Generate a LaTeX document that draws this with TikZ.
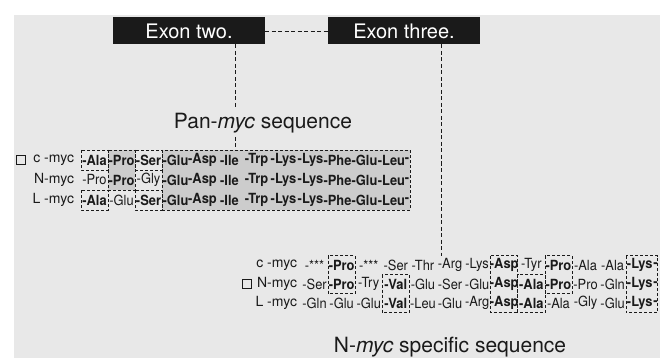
\documentclass[tikz,border=0pt]{standalone}
\usepackage{fontspec}
\setmainfont{TeX Gyre Heros}
\newfontfamily\seqfont[FakeStretch=0.92]{TeX Gyre Heros}
\newcommand{\rb}{\bfseries}
\newcommand{\rn}{\mdseries}
\definecolor{ce8e8e8}{RGB}{232,232,232}
\definecolor{cc8c8c8}{RGB}{204,204,204}
\definecolor{c1a1a1a}{RGB}{26,26,26}

\begin{document}
\begin{tikzpicture}[x=1pt, y=1pt, yscale=-1, inner sep=0pt, outer sep=0pt,
  exonbox/.style={fill=c1a1a1a, text=white, minimum width=152pt,
    minimum height=27pt, font=\fontsize{20}{22}\selectfont},
  dashline/.style={draw=c1a1a1a, dash pattern=on 4pt off 2.5pt, line width=0.8pt},
  seqbox/.style={draw=c1a1a1a, dash pattern=on 3pt off 2pt, line width=0.7pt},
  res/.style={text=c1a1a1a, font=\seqfont\fontsize{14}{16}\selectfont},
  myclabel/.style={anchor=east, text=c1a1a1a, font=\fontsize{14}{16}\selectfont},
  seqtitle/.style={inner sep=4pt, text=c1a1a1a, font=\fontsize{21}{25}\selectfont}]
\useasboundingbox (0,0) rectangle (660,358);
\path[fill=ce8e8e8] (14,15) rectangle (660,358);

% exon boxes
\node[exonbox] (exontwo) at (189,31) {Exon two.};
\node[exonbox] (exonthree) at (404,31) {Exon three.};

% pan-myc block: shaded and dashed boxes
\path[seqbox, fill=cc8c8c8] (162,150) rectangle (410,210);
\path[seqbox, fill=cc8c8c8] (108,150) rectangle (135,190);
\path[seqbox] (81,150) rectangle (108,170);
\path[seqbox] (135,150) rectangle (162,170);
\path[seqbox] (81,190) rectangle (108,210);
\path[seqbox] (135,190) rectangle (162,210);

\node[seqtitle] (pantitle) at (263,123) {Pan-\textit{myc} sequence};
\path[draw=c1a1a1a, line width=0.6pt] (16,155.5) rectangle (25,164.5);
\node[myclabel] (panc) at (74,160) {c -myc};
\node[myclabel] (pann) at (74,180) {N-myc};
\node[myclabel] (panl) at (74,200) {L -myc};
\foreach \f/\r [count=\k] in {\rb/Ala,\rb/Pro,\rb/Ser,\rb/Glu,\rb/Asp,\rb/Ile,
    \rb/Trp,\rb/Lys,\rb/Lys,\rb/Phe,\rb/Glu,\rb/Leu}
  \node[res] (pc\k) at ({81+27*(\k-0.5)},160) {\f-\r};
\foreach \f/\r [count=\k] in {\rn/Pro,\rb/Pro,\rn/Gly,\rb/Glu,\rb/Asp,\rb/Ile,
    \rb/Trp,\rb/Lys,\rb/Lys,\rb/Phe,\rb/Glu,\rb/Leu}
  \node[res] (pn\k) at ({81+27*(\k-0.5)},180) {\f-\r};
\foreach \f/\r [count=\k] in {\rb/Ala,\rn/Glu,\rb/Ser,\rb/Glu,\rb/Asp,\rb/Ile,
    \rb/Trp,\rb/Lys,\rb/Lys,\rb/Phe,\rb/Glu,\rb/Leu}
  \node[res] (pl\k) at ({81+27*(\k-0.5)},200) {\f-\r};
\node[res] (pcend) at (407,160) {\rb-};
\node[res] (pnend) at (407,180) {\rb-};
\node[res] (plend) at (407,200) {\rb-};

% N-myc specific block
\path[seqbox] (328.1,255.5) rectangle (355.2,293.5);
\path[seqbox] (382.3,274.5) rectangle (409.4,312.5);
\path[seqbox] (490.7,255.5) rectangle (517.8,312.5);
\path[seqbox] (517.8,274.5) rectangle (544.9,312.5);
\path[seqbox] (544.9,255.5) rectangle (572.0,293.5);
\path[seqbox] (626.2,255.5) rectangle (657.5,312.5);

\node[myclabel] (specc) at (297,265) {c -myc};
\node[myclabel] (specn) at (297,284) {N-myc};
\node[myclabel] (specl) at (297,303) {L -myc};
\path[draw=c1a1a1a, line width=0.6pt] (242,279.5) rectangle (251,288.5);
\foreach \f/\r [count=\k] in {\rn/***,\rb/Pro,\rn/***,\rn/Ser,\rn/Thr,\rn/Arg,
    \rn/Lys,\rb/Asp,\rn/Tyr,\rb/Pro,\rn/Ala,\rn/Ala,\rb/Lys}
  \node[res] (sc\k) at ({301+27.1*(\k-0.5)},265) {\f-\r};
\foreach \f/\r [count=\k] in {\rn/Ser,\rb/Pro,\rn/Try,\rb/Val,\rn/Glu,\rn/Ser,
    \rn/Glu,\rb/Asp,\rb/Ala,\rb/Pro,\rn/Pro,\rn/Gln,\rb/Lys}
  \node[res] (sn\k) at ({301+27.1*(\k-0.5)},284) {\f-\r};
\foreach \f/\r [count=\k] in {\rn/Gln,\rn/Glu,\rn/Glu,\rb/Val,\rn/Leu,\rn/Glu,
    \rn/Arg,\rb/Asp,\rb/Ala,\rn/Ala,\rn/Gly,\rn/Glu,\rb/Lys}
  \node[res] (sl\k) at ({301+27.1*(\k-0.5)},303) {\f-\r};
\node[res] (scend) at (655.5,265) {\rb-};
\node[res] (snend) at (655.5,284) {\rb-};
\node[res] (slend) at (655.5,303) {\rb-};
\node[seqtitle] (spectitle) at (450,347) {N-\textit{myc} specific sequence};

% dashed links
\coordinate (pantop) at (235,150);
\coordinate (spectop) at (441,255.5);
\draw[dashline] (exontwo) -- (exonthree);
\draw[dashline] (exontwo.south -| pantop) -- (pantitle.north -| pantop);
\draw[dashline] (pantitle.south -| pantop) -- (pantop);
\draw[dashline] (exonthree.south -| spectop) -- (spectop);
\end{tikzpicture}
\end{document}
